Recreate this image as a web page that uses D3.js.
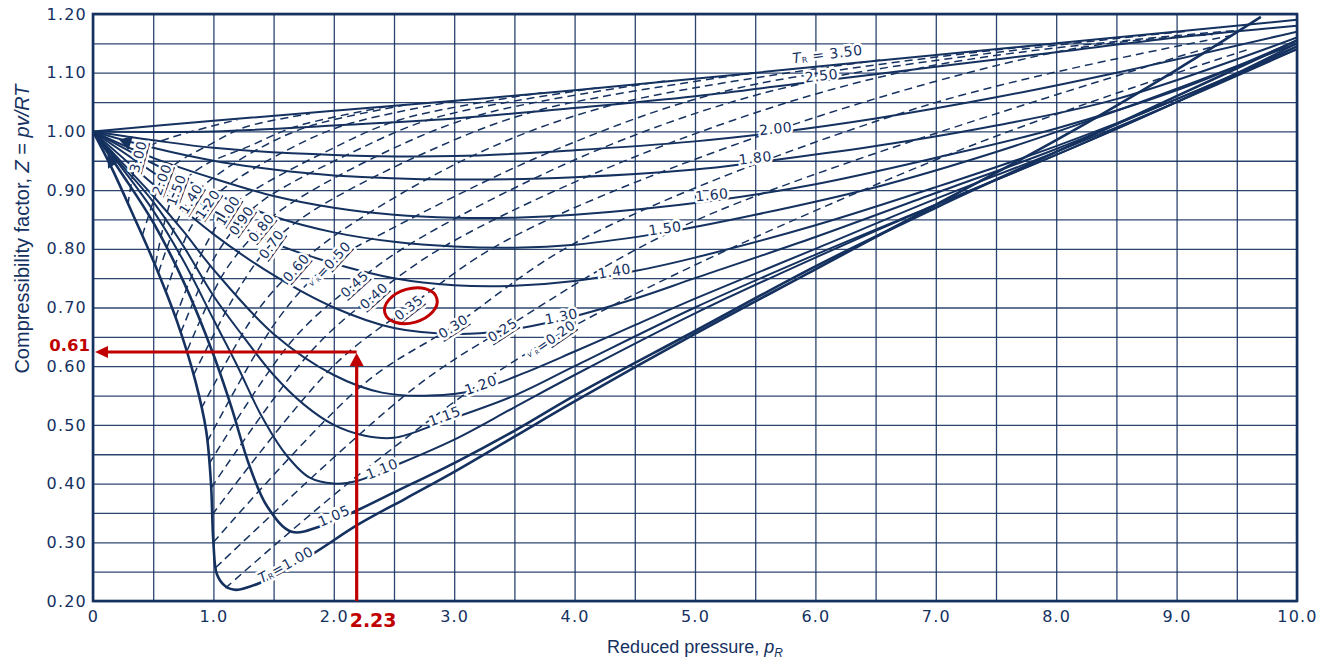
<!DOCTYPE html>
<html>
<head>
<meta charset="utf-8">
<title>Generalized compressibility chart</title>
<script src="https://cdn.jsdelivr.net/npm/d3@7/dist/d3.min.js"></script>
<style>
  body { margin: 0; background: #fff; }
  text { font-family: "DejaVu Sans", Verdana, sans-serif; }
  .title { font-family: "Liberation Sans", Arial, sans-serif; }
</style>
</head>
<body>
<div id="chart"></div>
<script>
// ticks and grid
const zTicks = [0.20, 0.30, 0.40, 0.50, 0.60, 0.70, 0.80, 0.90, 1.00, 1.10, 1.20];
const pTicks = [0, 1, 2, 3, 4, 5, 6, 7, 8, 9, 10];
const zGrid = [0.20, 0.25, 0.30, 0.35, 0.40, 0.45, 0.50, 0.55, 0.60, 0.65, 0.70, 0.75, 0.80, 0.85, 0.90, 0.95, 1.00, 1.05, 1.10, 1.15, 1.20];
const pGrid = [0, 0.5, 1, 1.5, 2, 2.5, 3, 3.5, 4, 4.5, 5, 5.5, 6, 6.5, 7, 7.5, 8, 8.5, 9, 9.5, 10];

// isotherms, [p_R, Z]
const tr100 = [[0,1],[0.15,0.94],[0.35,0.85],[0.5,0.78],[0.7,0.675],[0.85,0.575],[0.94,0.49],[0.98,0.40],[1.0,0.30],[1.03,0.245],[1.1,0.225],[1.19,0.219],[1.4,0.232],[1.8,0.277],[2.2,0.33],[2.6,0.375],[3.0,0.42],[3.5,0.48],[4.0,0.54],[5.0,0.655],[6.0,0.765],[7.0,0.875],[8.0,0.985],[9.0,1.105],[9.7,1.195]];
const tr105 = [[0,1],[0.25,0.925],[0.5,0.845],[0.75,0.745],[1.0,0.62],[1.15,0.53],[1.3,0.43],[1.45,0.36],[1.65,0.318],[1.9,0.328],[2.2,0.355],[2.5,0.385],[3.0,0.435],[3.5,0.49],[4.0,0.55],[5.0,0.66],[6.0,0.77],[7.0,0.87],[8.0,0.965],[9.0,1.06],[10,1.155]];
const tr110 = [[0,1],[0.25,0.935],[0.5,0.865],[0.75,0.78],[1.0,0.68],[1.2,0.6],[1.4,0.515],[1.6,0.45],[1.8,0.41],[2.0,0.40],[2.2,0.405],[2.5,0.43],[3.0,0.475],[3.5,0.53],[4.0,0.585],[5.0,0.69],[6.0,0.785],[7.0,0.875],[8.0,0.96],[9.0,1.05],[10,1.15]];
const tr115 = [[0,1],[0.25,0.94],[0.5,0.88],[0.75,0.805],[1.0,0.72],[1.25,0.65],[1.5,0.585],[1.75,0.535],[2.0,0.5],[2.25,0.482],[2.5,0.478],[2.9,0.505],[3.5,0.55],[4.0,0.6],[5.0,0.7],[6.0,0.79],[7.0,0.875],[8.0,0.96],[9.0,1.05],[10,1.145]];
const tr120 = [[0,1],[0.25,0.945],[0.5,0.89],[0.75,0.83],[1.0,0.765],[1.5,0.655],[2.0,0.585],[2.4,0.555],[2.8,0.55],[3.2,0.56],[3.6,0.59],[4.0,0.625],[4.5,0.67],[5.0,0.715],[6.0,0.8],[7.0,0.885],[8.0,0.965],[9.0,1.05],[10,1.14]];
const tr130 = [[0,1],[0.5,0.91],[1.0,0.825],[1.5,0.755],[2.0,0.7],[2.5,0.665],[3.0,0.655],[3.4,0.66],[3.9,0.68],[4.5,0.715],[5.0,0.75],[6.0,0.82],[7.0,0.895],[8.0,0.97],[9.0,1.055],[10,1.14]];
const tr140 = [[0,1],[0.5,0.93],[1.0,0.865],[1.5,0.81],[2.0,0.775],[2.5,0.75],[3.0,0.738],[3.5,0.737],[4.0,0.745],[4.5,0.762],[5.0,0.785],[6.0,0.84],[7.0,0.905],[8.0,0.975],[9.0,1.055],[10,1.145]];
const tr150 = [[0,1],[0.5,0.945],[1.0,0.895],[1.5,0.855],[2.0,0.828],[2.5,0.812],[3.0,0.804],[3.5,0.802],[4.0,0.807],[4.75,0.828],[5.5,0.858],[6.5,0.905],[7.5,0.965],[8.5,1.035],[10,1.15]];
const tr160 = [[0,1],[0.5,0.955],[1.0,0.92],[1.5,0.89],[2.0,0.87],[2.5,0.858],[3.0,0.853],[3.5,0.853],[4.0,0.858],[5.15,0.882],[6.0,0.91],[7.0,0.955],[8.0,1.005],[9.0,1.07],[10,1.155]];
const tr180 = [[0,1],[0.5,0.972],[1.0,0.95],[1.5,0.935],[2.0,0.925],[3.0,0.918],[4.0,0.922],[5.0,0.935],[5.5,0.947],[6.5,0.975],[7.5,1.01],[8.5,1.055],[10,1.16]];
const tr200 = [[0,1],[0.5,0.985],[1.0,0.972],[2.0,0.96],[3.0,0.958],[4.0,0.968],[5.0,0.983],[5.67,0.998],[6.5,1.022],[7.5,1.058],[8.5,1.1],[10,1.17]];
const tr250 = [[0,1],[1.0,1.0],[2.0,1.01],[3.0,1.022],[4.0,1.04],[5.0,1.06],[6.0,1.085],[7.0,1.11],[8.0,1.135],[9.0,1.16],[10,1.18]];
const tr350 = [[0,1],[1,1.018],[2,1.035],[4,1.07],[6,1.11],[8,1.15],[10,1.19]];

// ideal reduced volume lines v'_R, [p_R, Z]
const vr300 = [[0.29,0.875],[0.33,0.925],[0.373,0.957],[0.47,0.975],[0.655,0.99],[1.2,1.02]];
const vr200 = [[0.41,0.823],[0.5,0.88],[0.57,0.918],[0.69,0.945],[0.975,0.978],[1.26,1.007],[1.8,1.03]];
const vr150 = [[0.52,0.775],[0.6,0.85],[0.69,0.90],[0.905,0.94],[1.3,0.975],[1.68,1.008],[2.43,1.042]];
const vr140 = [[0.545,0.76],[0.705,0.85],[0.81,0.885],[0.96,0.915],[1.39,0.972],[1.8,1.009],[2.62,1.046]];
const vr120 = [[0.605,0.726],[0.795,0.83],[0.95,0.876],[1.1,0.905],[1.61,0.968],[2.11,1.012],[3.07,1.054]];
const vr100 = [[0.685,0.683],[0.92,0.8],[1.12,0.865],[1.3,0.895],[1.93,0.965],[2.55,1.02],[3.73,1.066]];
const vr090 = [[0.73,0.658],[0.995,0.78],[1.23,0.848],[1.43,0.885],[2.13,0.962],[2.84,1.023],[4.18,1.074]];
const vr080 = [[0.785,0.628],[1.09,0.76],[1.395,0.836],[1.59,0.87],[2.4,0.962],[3.21,1.028],[4.75,1.086]];
const vr070 = [[0.835,0.585],[1.205,0.73],[1.48,0.808],[1.79,0.86],[2.74,0.962],[3.7,1.036],[5.5,1.1]];
const vr060 = [[0.9,0.528],[1.35,0.69],[1.685,0.768],[2.06,0.83],[3.2,0.963],[4.37,1.048],[6.55,1.122]];
const vr050 = [[0.95,0.472],[1.535,0.68],[1.96,0.774],[2.44,0.83],[3.88,0.972],[5.36,1.074],[8.05,1.151]];
const vr045 = [[0.965,0.434],[1.66,0.645],[2.17,0.74],[2.69,0.815],[4.33,0.98],[6.03,1.088],[9.1,1.171]];
const vr040 = [[0.982,0.393],[1.81,0.625],[2.33,0.72],[3.01,0.815],[4.92,0.99],[6.92,1.11],[9.5,1.172]];
const vr035 = [[0.99,0.347],[1.995,0.6],[2.62,0.70],[3.44,0.815],[5.72,1.005],[8.12,1.14],[9.3,1.165]];
const vr030 = [[1.0,0.30],[2.25,0.57],[2.99,0.668],[4.05,0.815],[6.93,1.045],[9.5,1.165]];
const vr025 = [[1.02,0.257],[2.65,0.56],[3.4,0.662],[4.97,0.845],[8.9,1.12],[9.4,1.15]];
const vr020 = [[1.1,0.222],[2.3,0.43],[3.8,0.646],[7.1,0.96],[9.6,1.14]];

const isotherms = [tr100, tr105, tr110, tr115, tr120, tr130, tr140, tr150, tr160, tr180, tr200, tr250, tr350];
const isoNames  = ["1.00", "1.05", "1.10", "1.15", "1.20", "1.30", "1.40", "1.50", "1.60", "1.80", "2.00", "2.50", "3.50"];
const isoLabelAt = [[1.6,0.262],[2.0,0.345],[2.4,0.425],[2.92,0.515],[3.22,0.568],[3.89,0.685],[4.33,0.762],[4.75,0.835],[5.14,0.892],[5.5,0.955],[5.67,1.005],[6.05,1.095],[6.1,1.132]];

const volLines = [vr300, vr200, vr150, vr140, vr120, vr100, vr090, vr080, vr070, vr060, vr050, vr045, vr040, vr035, vr030, vr025, vr020];
const volNames = ["3.00", "2.00", "1.50", "1.40", "1.20", "1.00", "0.90", "0.80", "0.70", "0.60", "0.50", "0.45", "0.40", "0.35", "0.30", "0.25", "0.20"];
const volLabelAt = [[0.373,0.957],[0.57,0.918],[0.69,0.90],[0.81,0.885],[0.95,0.876],[1.12,0.865],[1.23,0.848],[1.395,0.836],[1.48,0.808],[1.685,0.768],[1.96,0.774],[2.17,0.74],[2.33,0.72],[2.62,0.70],[2.99,0.668],[3.4,0.662],[3.8,0.646]];

// arrow marks near the origin
const marks = [[0.28,0.982],[0.157,0.949]];

// red reading guide
const readPoint = [2.19, 0.624];
const readZ = "0.61", readP = "2.23";
const circled = [2.64, 0.703];

const navy = "#15315f", red = "#c00000";
const [width, height] = [1332, 664];

const svg = d3.select("#chart").append("svg").attr("width", width).attr("height", height);
const x = d3.scaleLinear().domain([0, 10]).range([93, 1297]);
const y = d3.scaleLinear().domain([0.2, 1.2]).range([601, 14]);

// grid
svg.append("g").attr("transform", `translate(0, ${y(0.2)})`)
	.call(d3.axisBottom(x).tickValues(pGrid).tickSize(y(1.2) - y(0.2)).tickFormat(""))
	.call(g => g.select(".domain").remove())
	.selectAll("line").attr("stroke", navy).attr("stroke-width", 1.3).attr("opacity", 0.9);
svg.append("g").attr("transform", `translate(${x(0)}, 0)`)
	.call(d3.axisLeft(y).tickValues(zGrid).tickSize(x(0) - x(10)).tickFormat(""))
	.call(g => g.select(".domain").remove())
	.selectAll("line").attr("stroke", navy).attr("stroke-width", 1.3).attr("opacity", 0.9);

// tick labels
svg.append("g").attr("transform", `translate(${x(0)}, 0)`)
	.call(d3.axisLeft(y).tickValues(zTicks).tickSize(0).tickPadding(6).tickFormat(d3.format(".2f")))
	.call(g => g.select(".domain").remove())
	.selectAll("text").attr("fill", navy).attr("font-size", 16).attr("letter-spacing", 1.2)
	.attr("font-family", "DejaVu Sans, sans-serif");
svg.append("g").attr("transform", `translate(0, ${y(0.2)})`)
	.call(d3.axisBottom(x).tickValues(pTicks).tickSize(0).tickPadding(10).tickFormat(d => d === 0 ? "0" : d3.format(".1f")(d)))
	.call(g => g.select(".domain").remove())
	.selectAll("text").attr("fill", navy).attr("font-size", 16).attr("letter-spacing", 1.2)
	.attr("font-family", "DejaVu Sans, sans-serif");

svg.append("rect").attr("x", x(0)).attr("y", y(1.2)).attr("width", x(10) - x(0)).attr("height", y(0.2) - y(1.2))
	.attr("fill", "none").attr("stroke", navy).attr("stroke-width", 2.6);

svg.append("clipPath").attr("id", "plot").append("rect")
	.attr("x", x(0)).attr("y", y(1.2)).attr("width", x(10) - x(0)).attr("height", y(0.2) - y(1.2));

const line = d3.line().x(d => x(d[0])).y(d => y(d[1])).curve(d3.curveCatmullRom.alpha(0.5));
const curves = svg.append("g").attr("clip-path", "url(#plot)");

curves.selectAll(".vol").data(volLines).enter().append("path")
	.attr("class", "vol").attr("d", line).attr("fill", "none")
	.attr("stroke", navy).attr("stroke-width", 1.5).attr("stroke-dasharray", "8,5");

curves.selectAll(".iso").data(isotherms).enter().append("path")
	.attr("class", "iso").attr("d", line).attr("fill", "none")
	.attr("stroke", navy).attr("stroke-width", (d, i) => i < 2 ? 2.6 : 2.0);

curves.selectAll(".mark").data(marks).enter().append("path")
	.attr("d", d3.symbol(d3.symbolTriangle, 90))
	.attr("fill", navy)
	.attr("transform", d => {
		const ang = Math.atan2(y(1) - y(d[1]), x(0) - x(d[0])) * 180 / Math.PI + 90;
		return `translate(${x(d[0])}, ${y(d[1])}) rotate(${ang})`;
	});

// label angle follows the local direction of its own line
const angleAt = (pts, p) => {
	let i = pts.findIndex(d => d[0] >= p);
	if (i < 1) i = 1;
	const a = pts[i - 1], b = pts[i];
	return Math.atan2(y(b[1]) - y(a[1]), x(b[0]) - x(a[0])) * 180 / Math.PI;
};

const halo = sel => sel.attr("stroke", "#fff").attr("stroke-width", 5).attr("paint-order", "stroke").attr("stroke-linejoin", "round");

isoNames.forEach((name, i) => {
	const [p, z] = isoLabelAt[i];
	const t = svg.append("text").attr("font-size", 14).attr("fill", navy).attr("letter-spacing", 0.5)
		.attr("text-anchor", "middle").attr("dominant-baseline", "central")
		.attr("transform", `translate(${x(p)}, ${y(z)}) rotate(${name === "3.50" ? -7 : angleAt(isotherms[i], p)})`)
		.call(halo);
	if (name === "1.00" || name === "3.50") {
		t.append("tspan").attr("font-style", "italic").text("T");
		t.append("tspan").attr("font-size", 8).attr("dy", 3).text("R");
		t.append("tspan").attr("dy", -3).text(name === "1.00" ? "=" + name : " = " + name);
	} else {
		t.text(name);
	}
});

volNames.forEach((name, i) => {
	const [p, z] = volLabelAt[i];
	const t = svg.append("text").attr("font-size", 13.5).attr("fill", navy).attr("letter-spacing", 0.5)
		.attr("text-anchor", "middle").attr("dominant-baseline", "central")
		.attr("transform", `translate(${x(p)}, ${y(z)}) rotate(${angleAt(volLines[i], p)})`)
		.call(halo);
	if (name === "0.50" || name === "0.20") {
		t.append("tspan").attr("font-size", 8).attr("font-style", "italic").text("v′");
		t.append("tspan").attr("font-size", 6).attr("dy", 2).text("R");
		t.append("tspan").attr("dy", -2).text("=");
	}
	t.append("tspan").attr("text-decoration", "underline").text(name);
});

// axis titles
svg.append("text").attr("class", "title").attr("x", 695).attr("y", 653)
	.attr("text-anchor", "middle").attr("font-size", 18).attr("fill", navy)
	.call(t => {
		t.append("tspan").text("Reduced pressure, ");
		t.append("tspan").attr("font-style", "italic").text("p");
		t.append("tspan").attr("font-style", "italic").attr("font-size", 12).attr("dy", 4).text("R");
	});
svg.append("text").attr("class", "title").attr("transform", "translate(29, 229) rotate(-90)")
	.attr("text-anchor", "middle").attr("font-size", 20).attr("fill", navy)
	.call(t => {
		t.append("tspan").text("Compressibility factor, ");
		t.append("tspan").attr("font-style", "italic").text("Z");
		t.append("tspan").text(" = ");
		t.append("tspan").attr("font-style", "italic").text("pv/RT");
	});

// red reading guide
const rx = x(readPoint[0]), ry = y(readPoint[1]);
const guide = svg.append("g").attr("fill", red).attr("stroke", red);
guide.append("line").attr("x1", rx).attr("x2", rx).attr("y1", y(0.2)).attr("y2", ry + 8).attr("stroke-width", 3.2);
guide.append("line").attr("x1", rx).attr("x2", x(0) + 12).attr("y1", ry).attr("y2", ry).attr("stroke-width", 3);
guide.append("path").attr("stroke", "none")
	.attr("d", `M${rx},${ry + 1} L${rx - 7},${ry + 14} L${rx + 7},${ry + 14} Z`);
guide.append("path").attr("stroke", "none")
	.attr("d", `M${x(0) + 2},${ry} L${x(0) + 15},${ry - 6} L${x(0) + 15},${ry + 6} Z`);
guide.append("ellipse").attr("fill", "none").attr("stroke-width", 3)
	.attr("cx", x(circled[0])).attr("cy", y(circled[1])).attr("rx", 27).attr("ry", 17)
	.attr("transform", `rotate(-16, ${x(circled[0])}, ${y(circled[1])})`);

svg.append("text").attr("x", x(0) - 3).attr("y", ry - 1).attr("text-anchor", "end")
	.attr("font-size", 16.5).attr("font-weight", "bold").attr("fill", red).text(readZ);
svg.append("text").attr("x", rx - 7).attr("y", 627)
	.attr("font-size", 19).attr("font-weight", "bold").attr("fill", red).text(readP);
</script>
</body>
</html>
